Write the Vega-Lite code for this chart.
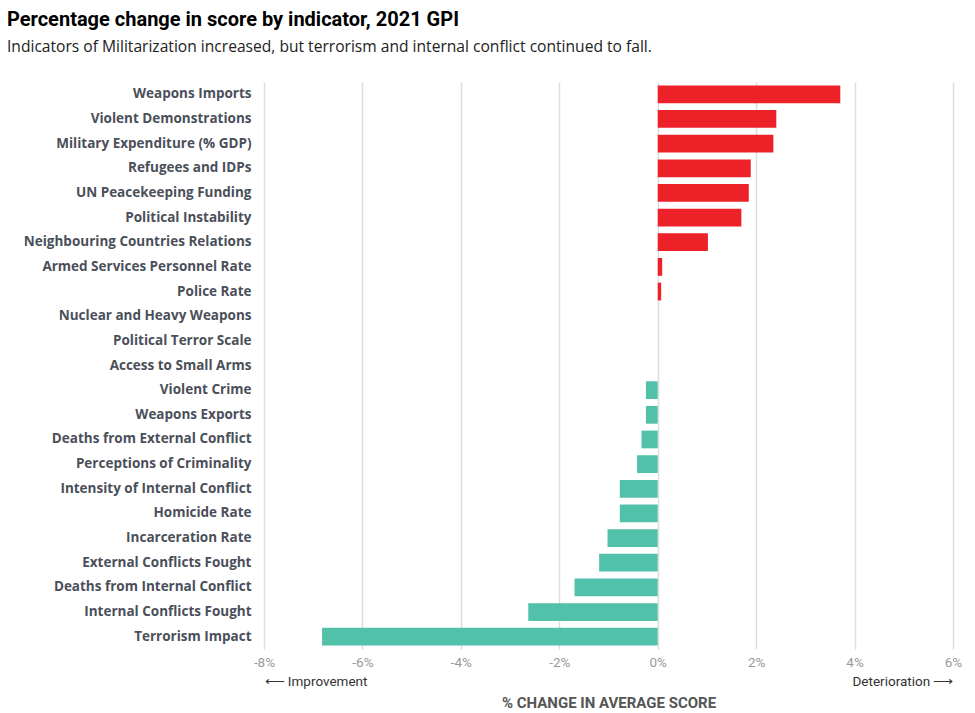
{
  "$schema": "https://vega.github.io/schema/vega-lite/v6.json",
  "width": 689,
  "height": 567,
  "autosize": "none",
  "padding": {"left": 264, "top": 82, "right": 22, "bottom": 64},
  "background": "white",
  "config": {"view": {"stroke": null}},
  "title": {
    "text": "Percentage change in score by indicator, 2021 GPI",
    "subtitle": "Indicators of Militarization increased, but terrorism and internal conflict continued to fall.",
    "anchor": "start",
    "frame": "group",
    "dx": -257,
    "offset": 26,
    "font": "Roboto",
    "fontSize": 20,
    "fontWeight": "bold",
    "color": "#000000",
    "subtitleFont": "Open Sans",
    "subtitleFontSize": 15.6,
    "subtitleColor": "#222222",
    "subtitlePadding": 10
  },
  "data": {
    "values": [
      {"indicator": "Weapons Imports", "change": 3.71, "dir": "up"},
      {"indicator": "Violent Demonstrations", "change": 2.41, "dir": "up"},
      {"indicator": "Military Expenditure (% GDP)", "change": 2.35, "dir": "up"},
      {"indicator": "Refugees and IDPs", "change": 1.89, "dir": "up"},
      {"indicator": "UN Peacekeeping Funding", "change": 1.85, "dir": "up"},
      {"indicator": "Political Instability", "change": 1.7, "dir": "up"},
      {"indicator": "Neighbouring Countries Relations", "change": 1.02, "dir": "up"},
      {"indicator": "Armed Services Personnel Rate", "change": 0.09, "dir": "up"},
      {"indicator": "Police Rate", "change": 0.07, "dir": "up"},
      {"indicator": "Nuclear and Heavy Weapons", "change": 0, "dir": "up"},
      {"indicator": "Political Terror Scale", "change": 0, "dir": "up"},
      {"indicator": "Access to Small Arms", "change": 0, "dir": "up"},
      {"indicator": "Violent Crime", "change": -0.24, "dir": "down"},
      {"indicator": "Weapons Exports", "change": -0.24, "dir": "down"},
      {"indicator": "Deaths from External Conflict", "change": -0.33, "dir": "down"},
      {"indicator": "Perceptions of Criminality", "change": -0.42, "dir": "down"},
      {"indicator": "Intensity of Internal Conflict", "change": -0.77, "dir": "down"},
      {"indicator": "Homicide Rate", "change": -0.77, "dir": "down"},
      {"indicator": "Incarceration Rate", "change": -1.02, "dir": "down"},
      {"indicator": "External Conflicts Fought", "change": -1.19, "dir": "down"},
      {"indicator": "Deaths from Internal Conflict", "change": -1.69, "dir": "down"},
      {"indicator": "Internal Conflicts Fought", "change": -2.63, "dir": "down"},
      {"indicator": "Terrorism Impact", "change": -6.82, "dir": "down"}
    ]
  },
  "layer": [
    {
      "mark": {"type": "bar"},
      "encoding": {
        "y": {
          "field": "indicator",
          "type": "nominal",
          "sort": null,
          "scale": {"paddingInner": 0.28, "paddingOuter": 0.14},
          "axis": {
            "title": null,
            "domain": false,
            "ticks": false,
            "labelPadding": 13,
            "labelFont": "Open Sans",
            "labelFontWeight": "bold",
            "labelFontSize": 13.5,
            "labelColor": "#4a4f5a",
            "labelLimit": 300
          }
        },
        "x": {
          "field": "change",
          "type": "quantitative",
          "scale": {"domain": [-8, 6], "nice": false, "zero": false},
          "axis": {
            "values": [-8, -6, -4, -2, 0, 2, 4, 6],
            "labelExpr": "datum.value + '%'",
            "title": null,
            "grid": true,
            "gridColor": "#dddddd",
            "gridWidth": 1.5,
            "domain": false,
            "ticks": false,
            "labelFlush": false,
            "labelPadding": 6,
            "labelFont": "Roboto",
            "labelFontSize": 13.5,
            "labelColor": "#999999"
          }
        },
        "color": {
          "field": "dir",
          "type": "nominal",
          "scale": {"domain": ["up", "down"], "range": ["#ec2228", "#52c1a9"]},
          "legend": null
        }
      }
    },
    {
      "mark": {"type": "tick", "opacity": 0},
      "encoding": {
        "x": {
          "field": "change",
          "type": "quantitative",
          "axis": {
            "orient": "bottom",
            "offset": 22,
            "values": [-8, 6],
            "labelExpr": "datum.value < 0 ? '⟵ Improvement' : 'Deterioration ⟶'",
            "labelAlign": {"condition": {"test": "datum.value < 0", "value": "left"}, "value": "right"},
            "labelFlush": false,
            "labelOverlap": false,
            "grid": false,
            "domain": false,
            "ticks": false,
            "labelPadding": 3,
            "labelFont": "Roboto",
            "labelFontSize": 13.5,
            "labelColor": "#333333",
            "title": "% CHANGE IN AVERAGE SCORE",
            "titleFont": "Roboto",
            "titleFontSize": 15,
            "titleFontWeight": "bold",
            "titleColor": "#555555",
            "titlePadding": 8
          }
        }
      }
    }
  ],
  "resolve": {"axis": {"x": "independent"}}
}
